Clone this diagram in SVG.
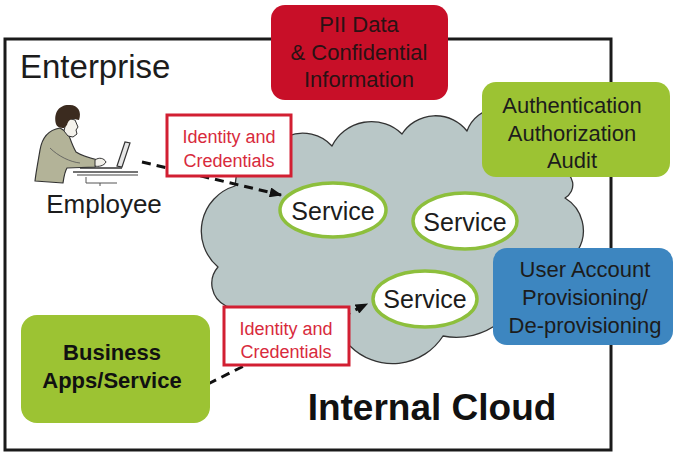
<svg xmlns="http://www.w3.org/2000/svg" width="674" height="453" viewBox="0 0 674 453">
  <defs>
    <style>
      .t { font-family: "Liberation Sans", Arial, sans-serif; fill: #1c1c1c; text-anchor: middle; }
      .tb { font-family: "Liberation Sans", Arial, sans-serif; fill: #111; text-anchor: middle; font-weight: bold; }
      .idbox { fill: #ffffff; stroke: #d21f32; stroke-width: 3; }
      .idtxt { font-family: "Liberation Sans", Arial, sans-serif; fill: #d82a3c; font-size: 18px; text-anchor: middle; }
      .svc { fill: #ffffff; stroke: #8dbf3c; stroke-width: 3.5; }
      .green { fill: #9cc333; }
      .flow { fill: none; stroke: #111; stroke-width: 3; stroke-dasharray: 9 6; marker-end: url(#head); }
    </style>
    <marker id="head" viewBox="0 0 10 8" refX="9" refY="4" markerWidth="13" markerHeight="10" markerUnits="userSpaceOnUse" orient="auto">
      <path d="M0,0 L10,4 L0,8 Z" fill="#111"/>
    </marker>
  </defs>

  <rect width="674" height="453" fill="#ffffff"/>

  <!-- Enterprise boundary -->
  <g id="enterprise">
    <rect x="5" y="39" width="606" height="411" fill="none" stroke="#1a1a1a" stroke-width="3"/>
    <text x="20" y="78" font-family="Liberation Sans, Arial, sans-serif" font-size="33" fill="#1c1c1c">Enterprise</text>
  </g>

  <!-- Internal cloud -->
  <g id="cloud">
    <path d="M235,186 L237,170 L288,136 A40,40 0 0 1 332,146 A44,44 0 0 1 402,134 A40,40 0 0 1 467,131 A35,35 0 0 1 530,125 L560,170 A15,15 0 0 1 565,198 A38,38 0 0 1 578,250 L500,322 A70,70 0 0 1 443,336 A60,60 0 0 1 350,346 L226,306 A25,25 0 0 1 218,267 A47,47 0 0 1 235,186 Z" fill="#b9c7c7" stroke="#333" stroke-width="1.3" stroke-linejoin="round"/>
    <text class="tb" x="432" y="420" font-size="37">Internal Cloud</text>
  </g>

  <!-- Employee -->
  <g id="employee">
    <!-- desk -->
    <line x1="73" y1="172" x2="138" y2="172" stroke="#444" stroke-width="1.3"/>
    <line x1="77" y1="175" x2="138" y2="175" stroke="#444" stroke-width="1.2"/>
    <path d="M86,177 L86,183 L117,183" fill="none" stroke="#555" stroke-width="1"/>
    <line x1="100" y1="183" x2="100" y2="186" stroke="#555" stroke-width="1"/>
    <!-- torso and arm -->
    <path d="M60,128 C48,130 42,138 40,150 C38,162 36,172 35,181 L63,183 C64,176 65,171 67,168 L95,167 L98,160 C90,158 82,156 76,152 C72,145 70,138 68,133 Z" fill="#b3b398" stroke="#333" stroke-width="1.2" stroke-linejoin="round"/>
    <path d="M50,148 C58,156 70,162 80,163" fill="none" stroke="#555" stroke-width="0.8"/>
    <!-- hand -->
    <path d="M95,160 C99,157 104,158 106,162 C104,166 98,167 95,166 Z" fill="#f2f0ea" stroke="#333" stroke-width="1"/>
    <!-- face -->
    <path d="M67,118 L75,120 L78,127 L76,130 L77,134 L73,137 L68,136 L64,131 Z" fill="#f4f2ec" stroke="#333" stroke-width="1"/>
    <!-- hair -->
    <path d="M56,124 C53,112 60,104 70,105 C78,105 82,112 79,120 L74,119 C70,119 68,121 67,125 L64,128 C60,128 57,127 56,124 Z" fill="#3b2b1f"/>
    <!-- laptop -->
    <polygon points="117,166 125,142 130,143 122,167" fill="#e6e6e6" stroke="#333" stroke-width="1.2"/>
    <line x1="80" y1="168" x2="122" y2="168" stroke="#333" stroke-width="1.5"/>
    <text class="t" x="104" y="213" font-size="26">Employee</text>
  </g>

  <!-- Flows -->
  <g id="connectors">
    <path class="flow" d="M142,162 L281,195"/>
    <path class="flow" d="M208,384 L367,304"/>
  </g>

  <g id="credentials-employee">
    <rect class="idbox" x="167" y="115" width="124" height="61"/>
    <text class="idtxt" x="229" y="143">Identity and</text>
    <text class="idtxt" x="229" y="167">Credentials</text>
  </g>

  <g id="credentials-apps">
    <rect class="idbox" x="224" y="307" width="125" height="58"/>
    <text class="idtxt" x="286" y="335">Identity and</text>
    <text class="idtxt" x="286" y="358">Credentials</text>
  </g>

  <g id="service-1">
    <ellipse class="svc" cx="333" cy="210" rx="53" ry="27"/>
    <text class="t" x="333" y="220" font-size="25">Service</text>
  </g>
  <g id="service-2">
    <ellipse class="svc" cx="465" cy="221" rx="52" ry="28"/>
    <text class="t" x="465" y="231" font-size="25">Service</text>
  </g>
  <g id="service-3">
    <ellipse class="svc" cx="425" cy="299" rx="52" ry="28"/>
    <text class="t" x="425" y="308" font-size="25">Service</text>
  </g>

  <g id="pii">
    <rect x="271" y="5" width="177" height="95" rx="14" fill="#c80f28"/>
    <text class="t" x="359" y="32" font-size="22" style="fill:#2a1214">PII Data</text>
    <text class="t" x="359" y="60" font-size="22" style="fill:#2a1214">&amp; Confidential</text>
    <text class="t" x="359" y="87" font-size="22" style="fill:#2a1214">Information</text>
  </g>

  <g id="aaa">
    <rect class="green" x="482" y="82" width="188" height="95" rx="14"/>
    <text class="t" x="572" y="113" font-size="22">Authentication</text>
    <text class="t" x="572" y="141" font-size="22">Authorization</text>
    <text class="t" x="572" y="168" font-size="22">Audit</text>
  </g>

  <g id="provisioning">
    <rect x="493" y="248" width="180" height="97" rx="14" fill="#3d86c0"/>
    <text class="t" x="585" y="277" font-size="22">User Account</text>
    <text class="t" x="585" y="305" font-size="22">Provisioning/</text>
    <text class="t" x="585" y="333" font-size="22">De-provisioning</text>
  </g>

  <g id="business-apps">
    <rect class="green" x="21" y="315" width="189" height="108" rx="16"/>
    <text class="tb" x="112" y="360" font-size="22">Business</text>
    <text class="tb" x="112" y="388" font-size="22">Apps/Service</text>
  </g>
</svg>
